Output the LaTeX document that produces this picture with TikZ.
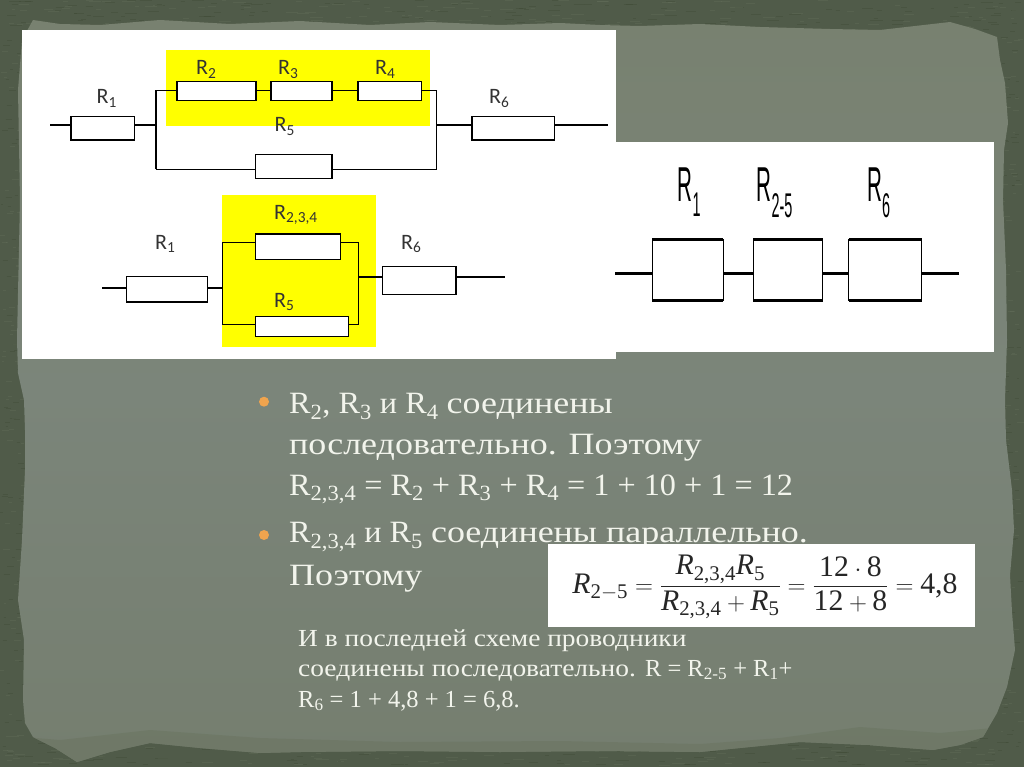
\documentclass[tikz,border=0pt]{standalone}
\usepackage{amsmath}
\usepackage{fontspec}
\setmainfont{Liberation Serif}
\newfontfamily\schemefont{Carlito}
\newfontfamily\narrowfont[FakeStretch=0.42]{Liberation Sans}
\newfontfamily\bodywide[FakeStretch=1.16]{Liberation Serif}
\newfontfamily\bodyplain[FakeStretch=1.04]{Liberation Serif}
\newfontfamily\smallwide[FakeStretch=1.12]{Liberation Serif}
\definecolor{outerbg}{HTML}{505B49}
\definecolor{fleck}{HTML}{39432F}
\definecolor{fleckb}{HTML}{6A7560}
\definecolor{papertop}{HTML}{788170}
\definecolor{papermid}{HTML}{7B857A}
\definecolor{paperbot}{HTML}{757E6F}
\definecolor{paperband}{HTML}{6D7765}
\definecolor{chalk}{HTML}{F2F4EC}
\definecolor{bulletc}{HTML}{F0A44E}
\definecolor{hilite}{HTML}{FFFF00}
\tikzset{
 res/.style={draw=black,fill=white,line width=1.1pt,inner sep=0pt,outer sep=0pt},
 wire/.style={draw=black,line width=1.1pt},
 lab/.style={inner sep=0pt,anchor=base west,font=\schemefont\fontsize{22}{22}\selectfont,text=black!80},
 tall/.style={inner sep=0pt,anchor=base west,text=black,font=\narrowfont\fontsize{49}{49}\selectfont},
 body/.style={inner sep=0pt,anchor=base west,text=chalk,font=\fontsize{31}{31}\selectfont},
 small/.style={inner sep=0pt,anchor=base west,text=chalk,font=\fontsize{24.5}{24.5}\selectfont},
 bulletdot/.style={circle,fill=bulletc,minimum size=10pt,inner sep=0pt},
 panel/.style={fill=white,draw=none},
 grain/.style={fleck,opacity=.28,line width=.8pt},
 grainb/.style={fleckb,opacity=.3,line width=.8pt}
}
\newcommand{\rbox}[5]{\node[res,minimum width=#4pt,minimum height=#5pt] (#1) at (#2,#3) {};}
\newcommand{\tornpaper}{(33,20) -- (60,24) -- (100,25) -- (160,20) -- (230,24) -- (300,21) -- (370,25) -- (430,22) -- (500,25) -- (560,23) -- (600,25) -- (640,26) -- (700,24) -- (760,27) -- (830,29) -- (880,30) -- (915,26) -- (950,22) -- (975,29) -- (997,37) -- (1000,60) -- (1005,83) -- (1008,123) -- (1004,150) -- (1003,200) -- (1006,270) -- (1007,340) -- (1005,400) -- (1006,440) -- (1012,490) -- (1014,530) -- (1010,575) -- (1012,612) -- (1015,650) -- (1007,687) -- (997,713) -- (983,737) -- (960,745) -- (933,750) -- (867,745) -- (800,742) -- (700,752) -- (600,751) -- (500,752) -- (400,751) -- (300,752) -- (260,753) -- (200,748) -- (150,743) -- (110,752) -- (77,762) -- (55,748) -- (33,737) -- (25,723) -- (23,700) -- (24,640) -- (18,600) -- (22,540) -- (25,470) -- (25,430) -- (24,400) -- (18,373) -- (17,340) -- (20,200) -- (18,90) -- (22,40) -- cycle}
\newcommand{\Ri}{\text{\itshape R}}
\begin{document}
\begin{tikzpicture}[x=1pt,y=-1pt]
\useasboundingbox (0,0) rectangle (1024,767);
\fill[outerbg] (0,0) rectangle (1024,767);
% grain of the outer border
\pgfmathsetseed{42}
\foreach \i in {1,...,260}{
 \pgfmathsetmacro{\px}{rnd*1000}\pgfmathsetmacro{\py}{rnd*30}
 \pgfmathsetmacro{\pl}{3+rnd*10}
 \ifodd\i \draw[grain] (\px,\py) -- ++(\pl,0);
 \else \draw[grainb] (\px,\py) -- ++(\pl,0); \fi
}
\foreach \i in {1,...,260}{
 \pgfmathsetmacro{\px}{rnd*1000}\pgfmathsetmacro{\py}{735+rnd*30}
 \pgfmathsetmacro{\pl}{3+rnd*10}
 \ifodd\i \draw[grain] (\px,\py) -- ++(\pl,0);
 \else \draw[grainb] (\px,\py) -- ++(\pl,0); \fi
}
\foreach \i in {1,...,160}{
 \pgfmathsetmacro{\px}{rnd*22}\pgfmathsetmacro{\py}{rnd*760}
 \pgfmathsetmacro{\pl}{2+rnd*5}
 \ifodd\i \draw[grain] (\px,\py) -- ++(\pl,0);
 \else \draw[grainb] (\px,\py) -- ++(\pl,0); \fi
}
\foreach \i in {1,...,160}{
 \pgfmathsetmacro{\px}{998+rnd*20}\pgfmathsetmacro{\py}{rnd*760}
 \pgfmathsetmacro{\pl}{2+rnd*5}
 \ifodd\i \draw[grain] (\px,\py) -- ++(\pl,0);
 \else \draw[grainb] (\px,\py) -- ++(\pl,0); \fi
}
\path[top color=papertop,bottom color=paperbot,middle color=papermid] \tornpaper;
\begin{scope}
\clip \tornpaper;
\fill[paperband,opacity=.75] (0,767) -- (0,735) -- (60,740) -- (150,730) -- (260,738) -- (400,742) -- (560,741) -- (700,744) -- (780,738) -- (860,727) -- (940,733) -- (1024,725) -- (1024,767) -- cycle;
\end{scope}

% panels
\fill[panel] (22,30) rectangle (616,359);
\fill[panel] (612,142.5) rectangle (994,352);
\fill[hilite] (166,50.5) rectangle (429.5,125.7);
\fill[hilite] (222.3,195.3) rectangle (375.7,346.7);

% first scheme
\coordinate (a0) at (50,125);
\coordinate (a1) at (156,125);
\coordinate (a2) at (156,90.7);
\coordinate (a3) at (156,169.3);
\coordinate (a4) at (436.4,125);
\coordinate (a5) at (436.4,90.7);
\coordinate (a6) at (436.4,169.3);
\coordinate (a7) at (608,125);
\rbox{ra1}{102.7}{128.2}{63.5}{23.7}
\rbox{ra2}{216.5}{91}{79}{18.6}
\rbox{ra3}{301.5}{91}{61}{18.6}
\rbox{ra4}{389.7}{91}{63.5}{18.6}
\rbox{ra5}{293.7}{166.5}{76.6}{23.6}
\rbox{ra6}{513.3}{128.2}{82.6}{23.7}
\draw[wire] (a0) -- (a0-|ra1.west) (a1-|ra1.east) -- (a1);
\draw[wire] (a3) -- (a2) -- (a2-|ra2.west);
\draw[wire] (a2-|ra2.east) -- (a2-|ra3.west);
\draw[wire] (a2-|ra3.east) -- (a2-|ra4.west);
\draw[wire] (a2-|ra4.east) -- (a5) -- (a6) -- (a6-|ra5.east);
\draw[wire] (a3) -- (a3-|ra5.west);
\draw[wire] (a4) -- (a4-|ra6.west) (a7-|ra6.east) -- (a7);
\node[lab] (la1) at (96.5,104) {R\textsubscript{1}};
\node[lab] (la2) at (196,75) {R\textsubscript{2}};
\node[lab] (la3) at (278,75) {R\textsubscript{3}};
\node[lab] (la4) at (375,75) {R\textsubscript{4}};
\node[lab] (la5) at (274.5,132) {R\textsubscript{5}};
\node[lab] (la6) at (489,104) {R\textsubscript{6}};

% second scheme
\coordinate (b0) at (102,288);
\coordinate (b1) at (222.3,288);
\coordinate (b2) at (222.3,242.7);
\coordinate (b3) at (222.3,324.3);
\coordinate (b4) at (358.7,277);
\coordinate (b5) at (358.7,242.7);
\coordinate (b6) at (358.7,324.3);
\coordinate (b7) at (505,277);
\rbox{rb1}{167}{289.3}{80.6}{25.3}
\rbox{rb2}{298.2}{246.8}{85}{25.7}
\rbox{rb5}{302}{326.7}{92.6}{20}
\rbox{rb6}{419.3}{280.5}{73.3}{28.4}
\draw[wire] (b0) -- (b0-|rb1.west) (b1-|rb1.east) -- (b1);
\draw[wire] (b3-|rb5.west) -- (b3) -- (b2) -- (b2-|rb2.west);
\draw[wire] (b2-|rb2.east) -- (b5) -- (b6) -- (b6-|rb5.east);
\draw[wire] (b4) -- (b4-|rb6.west) (b7-|rb6.east) -- (b7);
\node[lab] (lb1) at (155,249.3) {R\textsubscript{1}};
\node[lab] (lb2) at (274,219.3) {R\textsubscript{2,3,4}};
\node[lab] (lb5) at (274,307.3) {R\textsubscript{5}};
\node[lab] (lb6) at (401,249.3) {R\textsubscript{6}};

% third scheme
\coordinate (c0) at (615.3,273.7);
\coordinate (c7) at (959,273.7);
\node[minimum width=71pt,minimum height=60.7pt,inner sep=0pt,outer sep=0pt,fill=white] (rc1) at (687.8,270.3) {};
\node[minimum width=69.4pt,minimum height=60.7pt,inner sep=0pt,outer sep=0pt,fill=white] (rc2) at (788,270.3) {};
\node[minimum width=73pt,minimum height=60.7pt,inner sep=0pt,outer sep=0pt,fill=white] (rc3) at (885.2,270.3) {};
\foreach \n in {rc1,rc2,rc3}{
 \draw[line width=1.4pt] (\n.north west) rectangle (\n.south east);
 \draw[line width=3pt] (\n.north west) -- (\n.north east) (\n.south west) -- (\n.south east);
}
\draw[line width=3pt] (c0) -- (c0-|rc1.west) (c0-|rc1.east) -- (c0-|rc2.west) (c0-|rc2.east) -- (c0-|rc3.west) (c0-|rc3.east) -- (c7);
\node[tall] (lc1) at (677.5,201.7) {R\textsubscript{1}};
\node[tall] (lc2) at (756.5,201.7) {R\textsubscript{2-5}};
\node[tall] (lc3) at (867,201.7) {R\textsubscript{6}};

% main text
\node[bulletdot] (bu1) at (264,401.7) {};
\node[bulletdot] (bu2) at (264,535) {};
\node[body] (t1) at (289,413.3) {\bodyplain R\textsubscript{2}, R\textsubscript{3} и R\textsubscript{4} \bodywide соединены};
\node[body] (t2) at (289,454) {\bodywide последовательно. Поэтому};
\node[body] (t3) at (289,495) {\bodyplain R\textsubscript{2,3,4} = R\textsubscript{2} + R\textsubscript{3} + R\textsubscript{4} = 1 + 10 + 1 = 12};
\node[body] (t4) at (289,542.7) {\bodyplain R\textsubscript{2,3,4} и R\textsubscript{5} \bodywide соединены параллельно.};
\node[body] (t5) at (289,585) {\bodywide Поэтому};

% formula
\fill[panel] (548,544) rectangle (975.3,627);
\node[inner sep=0pt,text=black!85] (eq) at (765,587) {\fontsize{29.8}{34}\selectfont$\displaystyle \Ri_{\text{2}-\text{5}}=\frac{\Ri_{\text{2,3,4}}\Ri_{\text{5}}}{\Ri_{\text{2,3,4}}+\Ri_{\text{5}}}=\frac{\text{12}\cdot\text{8}}{\text{12}+\text{8}}=\text{4,8}$};

% lower text
\node[small] (s1) at (298,646) {\smallwide И в последней схеме проводники};
\node[small] (s2) at (298,676) {\smallwide соединены последовательно. \rmfamily R = R\textsubscript{2-5} + R\textsubscript{1}+};
\node[small] (s3) at (298,707) {R\textsubscript{6} = 1 + 4,8 + 1 = 6,8.};
\end{tikzpicture}
\end{document}
